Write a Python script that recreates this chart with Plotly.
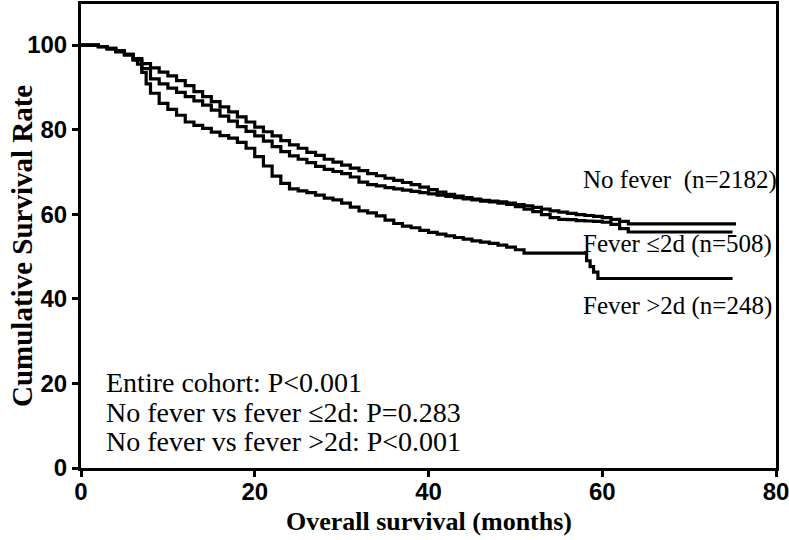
import plotly.graph_objects as go

# ---------------- data ----------------
no_fever_t = [0, 1, 2, 3, 4, 5, 6, 7, 8, 9, 10, 11, 12, 13, 14, 15, 16, 17, 18, 19, 20,
              21, 22, 23, 24, 25, 26, 27, 28, 29, 30, 31, 32, 33, 34, 35, 36, 37, 38, 39, 40,
              41, 42, 43, 44, 45, 46, 47, 48, 49, 50, 51, 52, 53, 54, 55, 56, 57, 58, 59, 60,
              61, 62, 63, 75.4]
no_fever_s = [100, 100, 99.6, 99.2, 98.6, 97.8, 96.8, 95.6, 94.6, 93.6, 92.7, 91.6, 90.4, 89.0,
              87.8, 86.6, 85.4, 84.2, 83.0, 81.8, 80.6, 79.5, 78.5, 77.4, 76.4, 75.6, 74.6, 73.9,
              73.0, 72.3, 71.6, 70.9, 70.3, 69.6, 69.1, 68.5, 68.0, 67.5, 67.0, 66.4, 65.8, 65.2,
              64.7, 64.3, 63.9, 63.6, 63.3, 63.1, 62.9, 62.6, 62.3, 62.0, 61.6, 61.2, 60.8, 60.5,
              60.2, 59.9, 59.7, 59.5, 59.2, 58.8, 58.3, 57.7, 57.7]

fever_le2_t = [0, 1, 2, 3, 4, 5, 6, 7, 8, 9, 10, 11, 12, 13, 14, 15, 16, 17, 18, 19, 20,
               21, 22, 23, 24, 25, 26, 27, 28, 29, 30, 31, 32, 33, 34, 35, 36, 37, 38, 39, 40,
               41, 42, 43, 44, 45, 46, 47, 48, 49, 50, 51, 52, 53, 54, 55, 56, 57, 58, 59, 60,
               61, 62, 63, 75]
fever_le2_s = [100, 100, 99.6, 99.0, 98.4, 97.6, 96.4, 94.4, 92.0, 90.8, 89.8, 88.8, 87.8, 86.8,
               85.8, 84.6, 83.2, 82.0, 80.7, 79.6, 78.5, 77.3, 76.0, 74.8, 73.8, 73.0, 72.2, 71.3,
               70.6, 70.1, 69.6, 68.8, 67.6, 67.0, 66.7, 66.3, 66.0, 65.7, 65.4, 65.1, 64.8, 64.5,
               64.2, 63.9, 63.6, 63.4, 63.1, 62.9, 62.6, 62.3, 61.8, 61.2, 60.6, 59.9, 59.2, 58.8,
               58.7, 58.5, 58.4, 58.3, 58.1, 57.6, 56.6, 55.8, 55.8]

fever_gt2_t = [0, 1, 2, 3, 4, 5, 6, 6.5, 7, 7.5, 8, 9, 10, 11, 12, 13, 14, 15, 16, 17, 18, 19,
               20, 21, 22, 23, 24, 25, 26, 27, 28, 29, 30, 31, 32, 33, 34, 35, 36, 37, 38, 39,
               40, 41, 42, 43, 44, 45, 46, 47, 48, 49, 50, 51, 57.8, 58.2, 58.6, 59, 59.5, 75]
fever_gt2_s = [100, 100, 99.6, 99.2, 98.6, 97.8, 96.6, 95.5, 93.5, 90.8, 88.6, 86.2, 84.8, 83.4,
               81.8, 81.0, 80.3, 79.4, 78.6, 78.0, 77.0, 75.6, 73.6, 71.4, 69.0, 67.3, 66.0, 65.5,
               65.1, 64.5, 63.8, 63.4, 62.6, 61.7, 60.8, 60.3, 59.6, 58.6, 57.8, 57.2, 56.8, 56.2,
               55.7, 55.3, 54.9, 54.5, 54.1, 53.7, 53.4, 53.1, 52.7, 52.2, 51.6, 50.8, 50.8, 49.0,
               47.6, 46.3, 44.8, 44.8]

group_labels = ["No fever  (n=2182)", "Fever ≤2d (n=508)", "Fever >2d (n=248)"]
label_y = [68.1, 52.9, 38.2]
label_x = 57.6

p_texts = ["Entire cohort: P<0.001",
           "No fever vs fever ≤2d: P=0.283",
           "No fever vs fever >2d: P<0.001"]
p_y = [20.2, 13.2, 6.2]
p_x = 2.7

x_ticks = [0, 20, 40, 60, 80]
y_ticks = [0, 20, 40, 60, 80, 100]

# ---------------- figure ----------------
fig = go.Figure()
for t, s in [(no_fever_t, no_fever_s), (fever_le2_t, fever_le2_s), (fever_gt2_t, fever_gt2_s)]:
    fig.add_trace(go.Scatter(x=t, y=s, mode="lines", line_shape="hv",
                             line=dict(color="black", width=3.2), showlegend=False,
                             hoverinfo="skip", cliponaxis=False))

serif = "Liberation Serif, Times New Roman, serif"
sans = "Liberation Sans, Arial, sans-serif"

for txt, yy in zip(group_labels, label_y):
    fig.add_annotation(x=label_x, y=yy, xref="x", yref="y", text=txt, showarrow=False,
                       xanchor="left", yanchor="middle",
                       font=dict(family=serif, size=25, color="black"))
for txt, yy in zip(p_texts, p_y):
    fig.add_annotation(x=p_x, y=yy, xref="x", yref="y", text=txt, showarrow=False,
                       xanchor="left", yanchor="middle",
                       font=dict(family=serif, size=28, color="black"))

# axis titles
fig.add_annotation(x=0, y=0.5, xref="paper", yref="paper", xshift=-59, yshift=-10,
                   text="Cumulative Survival Rate", textangle=-90, showarrow=False,
                   xanchor="center", yanchor="middle",
                   font=dict(family=serif, size=29, color="black", weight="bold"))
fig.add_annotation(x=0.5, y=0, xref="paper", yref="paper", yshift=-53,
                   text="Overall survival (months)", showarrow=False,
                   xanchor="center", yanchor="middle",
                   font=dict(family=serif, size=26, color="black", weight="bold"))

axis_common = dict(showgrid=False, zeroline=False, showline=True, linecolor="black",
                   linewidth=3, mirror=True, ticks="outside", ticklen=6, tickwidth=3,
                   tickcolor="black", automargin=False, ticklabeloverflow="allow",
                   tickfont=dict(family=sans, size=24, color="black", weight="bold"))

fig.update_xaxes(range=[0, 80], tickvals=x_ticks, ticktext=[str(v) for v in x_ticks],
                 ticklabelstandoff=-6, **axis_common)
fig.update_yaxes(range=[0, 109.7], tickvals=y_ticks, ticktext=[str(v) for v in y_ticks],
                 **axis_common)

fig.update_layout(width=789, height=540, plot_bgcolor="white", paper_bgcolor="white",
                  margin=dict(l=81, r=13, t=4, b=72))

fig.write_html("out.html", config={"displayModeBar": False},
               post_script="document.body.style.margin='0';document.body.style.padding='0';")
